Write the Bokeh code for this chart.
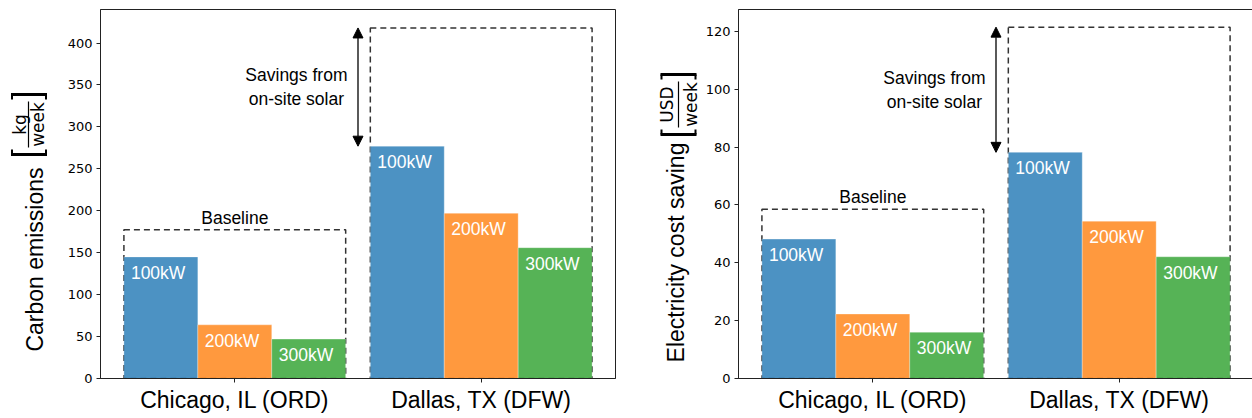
import numpy as np
from bokeh.plotting import figure
from bokeh.models import Arrow, NormalHead, FixedTicker, Range1d
from bokeh.layouts import row
from bokeh.core.properties import value
from bokeh.embed import file_html
from bokeh.resources import INLINE

# ---------------- data ----------------
cities = ["Chicago, IL (ORD)", "Dallas, TX (DFW)"]
capacities = ["100kW", "200kW", "300kW"]
colors = ["#1f77b4", "#ff7f0e", "#2ca02c"]

carbon_100 = [145, 277]
carbon_200 = [64, 197]
carbon_300 = [47, 156]
carbon_baseline = [177.5, 418]
carbon_ticks = [0, 50, 100, 150, 200, 250, 300, 350, 400]

cost_100 = [48.2, 78.2]
cost_200 = [22.3, 54.4]
cost_300 = [16.0, 42.1]
cost_baseline = [58.5, 121.5]
cost_ticks = [0, 20, 40, 60, 80, 100, 120]

ARIAL = value("Liberation Sans")
DEJAVU = value("DejaVu Sans")

BT, FW, FH, BB = 9, 515, 369, 38
H = BT + FH + BB


def make_panel(series, baseline, ymax, ticks, bl, br):
    p = figure(width=bl + FW + br, height=H,
               frame_width=FW, frame_height=FH,
               min_border_left=bl, min_border_right=br, min_border_top=BT,
               min_border_bottom=BB,
               x_range=Range1d(-0.545, 1.545), y_range=Range1d(0, ymax),
               output_backend="svg", toolbar_location=None)
    p.grid.visible = False
    p.outline_line_color = "#222222"
    p.outline_line_width = 1
    p.background_fill_color = "white"
    p.border_fill_color = "white"

    groups = list(range(len(cities)))
    # dashed baseline boxes (behind the bars)
    p.quad(left=[g - 0.45 for g in groups], right=[g + 0.45 for g in groups],
           bottom=[0] * len(groups), top=baseline,
           fill_color=None, line_color="#333333", line_dash="6 4", line_width=1.5)

    width = 0.3
    for s, vals in enumerate(series):
        xs = [g + (s - 1) * width for g in groups]
        p.vbar(x=xs, top=vals, width=width, bottom=0,
               fill_color=colors[s], fill_alpha=0.8,
               line_color="white", line_alpha=0.5, line_width=0.6)
        p.text(x=[x - width / 2 for x in xs], y=vals, text=[capacities[s]] * len(xs),
               x_offset=7, y_offset=16, text_align="left", text_baseline="middle",
               text_color="white", text_font=ARIAL, text_font_size="17.5px")

    p.text(x=[groups[0]], y=[baseline[0]], text=["Baseline"], y_offset=-2,
           text_align="center", text_baseline="bottom", text_color="black",
           text_font=ARIAL, text_font_size="17.5px")

    head = dict(size=10, fill_color="black", line_color="black")
    p.add_layout(Arrow(x_start=0.5, y_start=series[0][1], x_end=0.5, y_end=baseline[1],
                       start=NormalHead(**head), end=NormalHead(**head),
                       line_color="black", line_width=1.3))
    p.text(x=[0.25], y=[(baseline[1] + series[0][1]) / 2],
           text=["Savings from\non-site solar"],
           text_align="center", text_baseline="middle", text_color="black",
           text_font=ARIAL, text_font_size="17.5px", text_line_height=1.2)

    p.xaxis.ticker = FixedTicker(ticks=groups)
    p.xaxis.major_label_overrides = {g: c for g, c in zip(groups, cities)}
    p.xaxis.major_label_text_font = "Liberation Sans"
    p.xaxis.major_label_text_font_size = "23px"
    p.xaxis.major_label_text_color = "black"
    p.xaxis.major_label_standoff = 4
    p.yaxis.ticker = FixedTicker(ticks=ticks)
    p.yaxis.major_label_text_font = "DejaVu Sans"
    p.yaxis.major_label_text_font_size = "13px"
    p.yaxis.major_label_text_color = "black"
    p.yaxis.major_label_standoff = 4
    for ax in (p.xaxis, p.yaxis):
        ax.axis_line_color = "#222222"
        ax.major_tick_line_color = "#222222"
        ax.major_tick_out = 4
        ax.major_tick_in = 0
        ax.minor_tick_line_color = None
    return p


def label_fig(W, fig_x, main_text, main_x, main_y, num_text, num_x, den_x,
              frac_y, line_x, br_x):
    f = figure(width=W, height=H, frame_width=W, frame_height=H,
               min_border_left=0, min_border_right=0, min_border_top=0, min_border_bottom=0,
               x_range=Range1d(0, W), y_range=Range1d(0, H),
               x_axis_location=None, y_axis_location=None,
               output_backend="svg", toolbar_location=None)
    f.grid.visible = False
    f.outline_line_color = None

    def lx(px):
        return px - fig_x

    def ly(py):
        return H - py

    f.text(x=[lx(main_x)], y=[ly(main_y)], text=[main_text], angle=np.pi / 2,
           text_align="center", text_baseline="middle", text_color="black",
           text_font=ARIAL, text_font_size="23px")
    f.text(x=[lx(num_x), lx(den_x)], y=[ly(frac_y)] * 2, text=[num_text, "week"],
           angle=np.pi / 2, text_align="center", text_baseline="middle",
           text_color="black", text_font=DEJAVU, text_font_size="17px")
    # fraction bar
    f.segment(x0=[lx(line_x)], y0=[ly(frac_y - 23)], x1=[lx(line_x)], y1=[ly(frac_y + 23)],
              line_color="black", line_width=1.2)
    # square brackets (rotated): long strokes plus short serifs
    hw, yb, yt, serif = 18, frac_y + 30, frac_y - 30, 5
    xs = [[lx(br_x - hw), lx(br_x + hw)], [lx(br_x - hw), lx(br_x + hw)]]
    ys = [[ly(yb), ly(yb)], [ly(yt), ly(yt)]]
    f.multi_line(xs=xs, ys=ys, line_color="black", line_width=3)
    sx = [[lx(br_x - hw + 1)] * 2, [lx(br_x + hw - 1)] * 2,
          [lx(br_x - hw + 1)] * 2, [lx(br_x + hw - 1)] * 2]
    sy = [[ly(yb), ly(yb - serif)], [ly(yb), ly(yb - serif)],
          [ly(yt), ly(yt + serif)], [ly(yt), ly(yt + serif)]]
    f.multi_line(xs=sx, ys=sy, line_color="black", line_width=2)
    return f


W1, BL1, BR1 = 55, 45, 30
W2, BL2 = 57, 35
x_lab2 = W1 + BL1 + FW + BR1
lab1 = label_fig(W1, 0, "Carbon emissions", 34, 250, "kg", 19, 37.5, 115, 28, 28.5)
p1 = make_panel([carbon_100, carbon_200, carbon_300], carbon_baseline, 440, carbon_ticks,
                BL1, BR1)
lab2 = label_fig(W2, x_lab2, "Electricity cost saving", 675, 243, "USD", 666, 690,
                 95, 678, 678)
p2 = make_panel([cost_100, cost_200, cost_300], cost_baseline, 127.6, cost_ticks,
                BL2, 0)

layout = row(lab1, p1, lab2, p2)
open("out.html", "w").write(file_html(layout, INLINE))
